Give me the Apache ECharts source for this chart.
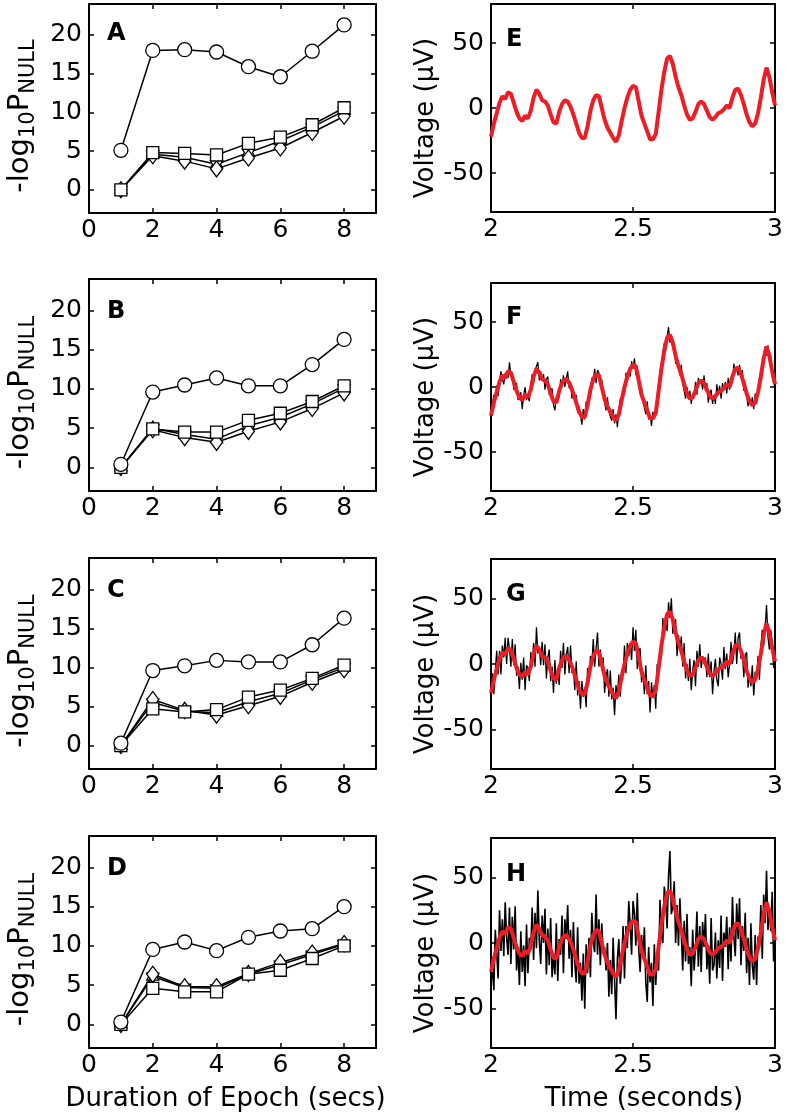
<!DOCTYPE html>
<html><head><meta charset="utf-8">
<script src="https://cdn.jsdelivr.net/npm/echarts@6/dist/echarts.min.js"></script>
<style>html,body{margin:0;padding:0;background:#fff}#c{width:786px;height:1120px}</style>
</head><body><div id="c"></div>
<script>
// ---------- Left panels: -log10 P_NULL vs epoch duration ----------
const epochs = [1,2,3,4,5,6,7,8];
const aCircle  = [5.1,18.0,18.1,17.8,15.9,14.6,17.9,21.3];
const aSquare  = [0,4.8,4.7,4.5,6.0,6.8,8.4,10.6];
const aDiamond = [0,4.4,3.7,2.7,4.1,5.4,7.4,9.5];
const aStar    = [0,4.6,4.2,3.3,4.8,6.3,8.1,10.2];
const bCircle  = [0.4,9.6,10.5,11.4,10.4,10.4,13.1,16.3];
const bSquare  = [0,4.9,4.5,4.5,6.0,6.9,8.4,10.4];
const bDiamond = [0,4.8,3.8,3.2,4.6,5.8,7.5,9.5];
const bStar    = [0,5.0,4.2,3.6,5.3,6.4,8.1,10.1];
const cCircle  = [0.3,9.6,10.2,10.9,10.7,10.7,12.9,16.3];
const cSquare  = [0,4.7,4.3,4.6,6.2,7.1,8.6,10.3];
const cDiamond = [0,5.9,4.5,3.9,5.1,6.3,8.1,9.7];
const cStar    = [0,5.5,4.4,4.2,5.6,6.7,8.4,10.0];
const dCircle  = [0.3,9.55,10.5,9.4,11.1,11.9,12.2,15.0];
const dSquare  = [0,4.6,4.15,4.15,6.4,6.9,8.4,10.0];
const dDiamond = [0,6.4,4.8,4.8,6.5,7.9,9.1,10.3];
const dStar    = [0,6.1,4.7,4.6,6.4,7.6,8.9,10.2];
const epochTicks = [0,2,4,6,8];
const pTicks = [0,5,10,15,20];

// ---------- Right panels: voltage traces (2 s .. 3 s) ----------
const voltTicks = [-50,0,50];
const timeTicks = [2,2.5,3];
// clean signal, sampled every 0.01 s
const redSignal = [-22,-12,-4,4,9,7,12,11,4,-3,-8,-10,-6,-8,-2,8,14,11,6,5,2,-5,-11,-12,-3,3,6,5,1,-5,-12,-19,-23,-23,-14,-2,6,10,9,0,-9,-15,-19,-23,-26,-21,-10,0,8,14,17,16,5,-6,-12,-18,-24,-24,-20,-3,14,28,38,40,34,24,16,10,2,-5,-9,-8,-3,3,5,3,-2,-7,-9,-7,-4,-3,-1,2,0,8,14,15,10,3,-5,-11,-14,-12,-4,8,22,31,24,12,2];
// noisy recordings, sampled every 0.005 s
const noisyF = [-20,-21,-6,-10,1,-7,5,12,6,2,11,11,7,19,9,11,-2,1,3,-10,-10,-4,-17,-6,0,-10,-7,-11,2,10,3,13,12,19,5,12,5,10,-2,6,8,-6,-5,-1,-14,-18,-8,-6,-8,6,1,9,0,6,12,-1,4,-9,-3,-10,-6,-20,-15,-21,-29,-17,-25,-11,-17,-6,-8,7,5,14,3,13,11,1,6,-6,-5,-18,-8,-19,-18,-26,-17,-28,-21,-31,-19,-9,-14,-2,-6,11,6,13,8,20,14,22,9,11,9,-5,0,-11,-10,-21,-11,-25,-21,-30,-19,-23,-18,-19,3,2,18,19,34,28,39,46,34,40,32,34,18,22,22,9,17,3,4,-9,0,-8,-3,-13,-5,-7,4,-6,7,2,6,-2,9,-3,3,-12,-5,-2,-13,-6,-13,2,-6,1,-9,3,-2,4,-5,7,-2,6,3,18,11,15,9,17,8,13,-3,1,0,-15,-8,-14,-8,-17,-5,-13,-2,-1,14,9,24,31,24,32,22,24,8,8,0];
const noisyG = [-27,-7,-23,-6,10,-8,10,-8,14,5,20,0,20,12,-2,19,-1,15,-9,-2,-19,1,-12,5,-20,-1,-3,-13,9,0,16,-2,28,8,13,-1,17,-1,15,-11,5,11,-13,-2,-22,3,-15,-3,-16,10,-3,16,-8,7,13,-7,14,-7,-2,-20,2,-24,-13,-34,-13,-25,-18,-33,-3,-14,6,-1,19,-2,12,24,-2,11,-5,5,-22,-9,-4,-25,-5,-27,-18,-39,-16,-25,-8,-25,-4,-8,14,-7,16,6,16,3,28,10,26,-4,10,12,-14,-6,-23,-1,-23,-13,-37,-14,-26,-16,-34,0,-6,10,4,35,22,35,25,47,35,50,23,32,34,6,22,10,21,-2,16,-11,0,-13,4,-20,-5,3,-17,10,-2,15,-3,6,0,5,-10,8,-10,2,-23,-6,4,-12,-17,5,0,-12,13,-4,8,-10,0,17,0,8,24,0,20,24,4,8,-10,7,9,-18,-8,-17,-1,-24,-6,-10,6,-12,13,26,14,27,45,21,11,26,15,-3,15];
const noisyH = [-37,-11,-36,10,-7,-27,25,-6,18,-10,31,4,-9,27,-16,20,-5,28,-21,-3,-32,9,-22,-2,-33,14,-23,4,-5,27,-13,23,-4,40,2,-16,21,0,26,-24,11,-17,19,-26,-8,-24,15,-29,3,-9,21,-23,18,3,29,-12,10,-26,16,-15,-30,12,-31,-15,-44,-8,-50,-1,-23,4,-26,23,0,-7,37,-9,18,-17,15,-8,-3,-21,0,-41,-13,-39,4,-28,-58,-12,3,-31,-16,13,-27,13,-4,32,14,-9,32,23,-2,38,-4,-22,6,-12,12,-30,-45,-3,-30,-15,-48,-1,-32,-9,-21,33,5,0,43,33,11,51,70,22,28,47,0,29,-2,34,7,-21,17,-14,22,-16,-3,-33,10,-21,-3,24,-18,13,-22,16,-3,22,-20,-2,-31,19,-21,-17,8,-27,2,-19,21,-29,8,-3,20,-20,12,-14,35,5,-10,30,3,34,-17,13,-6,23,-23,4,-32,15,-17,-28,6,-32,5,-4,29,-12,37,15,55,10,27,9,39,-14,14];

const FONT = '"DejaVu Sans", "Liberation Sans", sans-serif';
const redTimes = redSignal.map((_, i) => +(2 + i * 0.01).toFixed(3));
const noisyTimes = noisyF.map((_, i) => +(2 + i * 0.005).toFixed(4));
const zip = (xs, ys) => xs.map((x, i) => [x, ys[i]]);

const leftPanels = [
  {letter:'A', top:4,   h:209, data:[aCircle,aSquare,aDiamond,aStar], lt:22},
  {letter:'B', top:279, h:212, data:[bCircle,bSquare,bDiamond,bStar], lt:300},
  {letter:'C', top:558, h:211, data:[cCircle,cSquare,cDiamond,cStar], lt:579},
  {letter:'D', top:836, h:212, data:[dCircle,dSquare,dDiamond,dStar], lt:857}
];
const rightPanels = [
  {letter:'E', top:4,   h:208, noisy:null,   lt:28, w:1},
  {letter:'F', top:283, h:208, noisy:noisyF, lt:306, w:1.2},
  {letter:'G', top:559, h:210, noisy:noisyG, lt:583, w:1.3},
  {letter:'H', top:838, h:210, noisy:noisyH, lt:863, w:1.6}
];

const hexagram = 'path://M50,0L64.4,25L93.3,25L78.9,50L93.3,75L64.4,75L50,100L35.6,75L6.7,75L21.1,50L6.7,25L35.6,25Z';
const markers = [
  {symbol:'circle', size:14},
  {symbol:'rect', size:12},
  {symbol:'diamond', size:[12,16]},
  {symbol:hexagram, size:14}
];

const grid = [], xAxis = [], yAxis = [], series = [], title = [];
const tickStyle = {show:true, inside:true, length:5, lineStyle:{color:'#000', width:1.5}};
const lineStyle = {show:true, onZero:false, lineStyle:{color:'#000', width:2}};
const labelStyle = {color:'#000', fontSize:25, fontFamily:FONT};

function addAxes(gi, xr, yr, xt, yt, xName, yName, yNameStyle, xNameStyle) {
  xAxis.push({gridIndex:gi, type:'value', position:'bottom', min:xr[0], max:xr[1],
    axisLine:lineStyle, axisTick:Object.assign({customValues:xt}, tickStyle),
    axisLabel:Object.assign({customValues:xt, margin:5}, labelStyle), splitLine:{show:false},
    name:xName || '', nameLocation:'middle', nameGap:38, nameTextStyle:xNameStyle || {}});
  xAxis.push({gridIndex:gi, type:'value', position:'top', min:xr[0], max:xr[1],
    axisLine:lineStyle, axisTick:Object.assign({customValues:xt}, tickStyle),
    axisLabel:{show:false}, splitLine:{show:false}});
  yAxis.push({gridIndex:gi, type:'value', position:'left', min:yr[0], max:yr[1],
    axisLine:lineStyle, axisTick:Object.assign({customValues:yt}, tickStyle),
    axisLabel:Object.assign({customValues:yt, margin:7}, labelStyle), splitLine:{show:false},
    name:yName, nameLocation:'middle', nameGap:yNameStyle.gap, nameRotate:90, nameTextStyle:yNameStyle.style});
  yAxis.push({gridIndex:gi, type:'value', position:'right', min:yr[0], max:yr[1],
    axisLine:lineStyle, axisTick:Object.assign({customValues:yt}, tickStyle),
    axisLabel:{show:false}, splitLine:{show:false}});
}

const pNameStyle = {gap:50, style:{padding:[0,15,0,0], rich:{
  m:{fontSize:29, fontFamily:FONT, color:'#000', lineHeight:37},
  s:{fontSize:21, fontFamily:FONT, color:'#000', lineHeight:22, verticalAlign:'bottom'}
}}};
const vNameStyle = {gap:50, style:{fontSize:26, fontFamily:FONT, color:'#000', padding:[0,20,0,0]}};

leftPanels.forEach((p, i) => {
  const gi = grid.length;
  grid.push({left:89, top:p.top, width:287, height:p.h, show:true, backgroundColor:'#fff', borderWidth:0});
  addAxes(gi, [0,9], [-3,24], epochTicks, pTicks,
    i === 3 ? 'Duration of Epoch (secs)' : '',
    '{m|-log}{s|10}{m|P}{s|NULL}', pNameStyle,
    {fontSize:26, fontFamily:FONT, color:'#000', padding:[0,14,0,0]});
  p.data.forEach((vals, k) => {
    series.push({type:'line', xAxisIndex:2*gi, yAxisIndex:2*gi, data:zip(epochs, vals),
      symbol:markers[k].symbol, symbolSize:markers[k].size, symbolKeepAspect:true, showAllSymbol:true,
      lineStyle:{color:'#000', width:1.5}, itemStyle:{color:'#fff', borderColor:'#000', borderWidth:1.3},
      z: 2 + (3 - k), silent:true});
  });
  title.push({text:p.letter, left:107, top:p.lt, padding:0,
    textStyle:{fontSize:24, fontWeight:'bold', fontFamily:FONT, color:'#000'}});
});

rightPanels.forEach((p, i) => {
  const gi = grid.length;
  grid.push({left:491, top:p.top, width:287, height:p.h, show:true, backgroundColor:'#fff', borderWidth:0});
  addAxes(gi, [2,3], [-80,80], timeTicks, voltTicks,
    i === 3 ? 'Time (seconds)' : '',
    'Voltage (\u03bcV)', vNameStyle,
    {fontSize:26, fontFamily:FONT, color:'#000', padding:[0,0,0,22]});
  if (p.noisy) {
    series.push({type:'line', xAxisIndex:2*gi, yAxisIndex:2*gi, data:zip(noisyTimes, p.noisy),
      showSymbol:false, lineStyle:{color:'#000', width:p.w}, z:2, silent:true});
  }
  series.push({type:'line', xAxisIndex:2*gi, yAxisIndex:2*gi, data:zip(redTimes, redSignal),
    showSymbol:false, lineStyle:{color:'#ee1c24', width:4}, z:3, silent:true});
  title.push({text:p.letter, left:506, top:p.lt, padding:0,
    textStyle:{fontSize:24, fontWeight:'bold', fontFamily:FONT, color:'#000'}});
});

const chart = echarts.init(document.getElementById('c'), null, {renderer:'canvas'});
chart.setOption({animation:false, backgroundColor:'#fff', title, grid, xAxis, yAxis, series});
</script>
</body></html>
